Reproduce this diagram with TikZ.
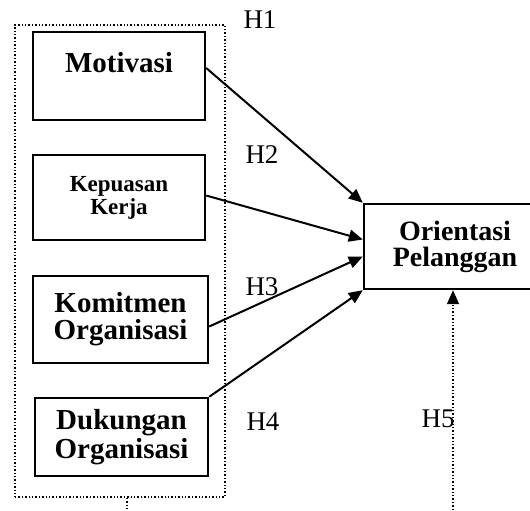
\documentclass[tikz,border=0pt]{standalone}
\usepackage{fontspec}
\setmainfont{Liberation Serif}
\usepackage{tikz}
\usetikzlibrary{arrows.meta, positioning, calc}

\begin{document}
\begin{tikzpicture}[x=0.5pt, y=-0.5pt,
    varbox/.style={draw, line width=1.2pt, align=center, inner sep=0pt},
    conn/.style={line width=1pt, -{Triangle[length=7pt, width=6pt]}},
    hyp/.style={font=\fontsize{13.5}{16}\selectfont, inner sep=0pt}]
\useasboundingbox (0,0) rectangle (530,510);

% Variables
\node[draw, densely dotted, line width=0.7pt, minimum width=105pt, minimum height=236pt] (grp) at (120,261) {};
\node[varbox, minimum width=86pt, text height=20pt, text depth=24pt,
      font=\bfseries\fontsize{14.5}{14}\selectfont] (mot) at (119,76) {Motivasi};
\node[varbox, minimum width=86pt, minimum height=42.5pt,
      font=\bfseries\fontsize{11.5}{9.5}\selectfont] (kep) at (119,197.5) {Kepuasan\\Kerja};
\node[varbox, minimum width=87.5pt, minimum height=43.5pt,
      font=\bfseries\fontsize{14.5}{13.5}\selectfont] (kom) at (120.5,319.5) {Komitmen\\Organisasi};
\node[varbox, minimum width=86.5pt, minimum height=39pt,
      font=\bfseries\fontsize{14.5}{13}\selectfont] (duk) at (121.5,437) {Dukungan\\Organisasi};
\node[varbox, minimum width=91pt, minimum height=42.5pt,
      font=\bfseries\fontsize{14}{13}\selectfont] (orient) at (455,246.5) {Orientasi\\Pelanggan};

% Paths
\draw[conn] ([yshift=4pt]mot.east) -- (orient.north west);
\draw[conn] ([yshift=1pt]kep.east) -- ([yshift=3.5pt]orient.west);
\draw[conn] ([yshift=-3.5pt]kom.east) -- ([yshift=-5pt]orient.west);
\draw[conn] (duk.north east) -- (orient.south west);
\coordinate (h5tail) at (453,510);
\draw[densely dotted, line width=0.7pt, -{Triangle[length=7pt, width=6pt]}] (h5tail) -- (h5tail |- orient.south);
\coordinate (grptail) at (127,510);
\draw[densely dotted, line width=0.7pt] (grptail |- grp.south) -- (grptail);

% Hypotheses
\node[hyp] (h1) at (260,20) {H1};
\node[hyp] (h2) at (262,155) {H2};
\node[hyp] (h3) at (262,287) {H3};
\node[hyp] (h4) at (263,422) {H4};
\node[hyp] (h5) at (438,419) {H5};
\end{tikzpicture}
\end{document}
